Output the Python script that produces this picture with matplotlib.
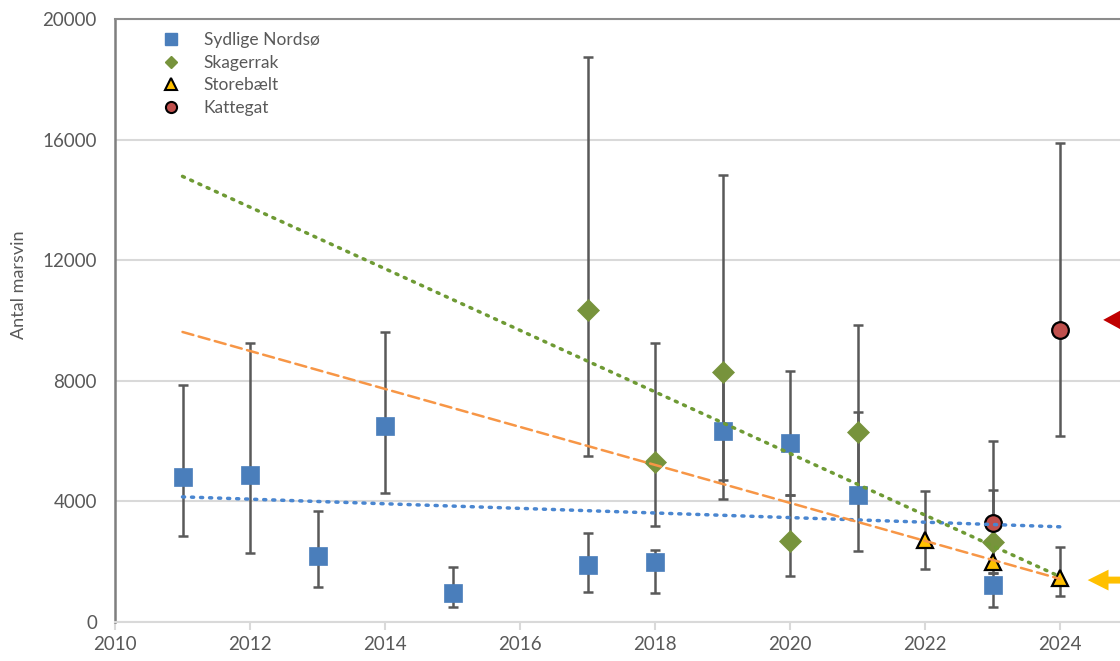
import numpy as np
import matplotlib
matplotlib.use('Agg')
import matplotlib.pyplot as plt
from matplotlib.lines import Line2D

plt.rcParams['font.family'] = ['Lato', 'DejaVu Sans']

# Sydlige Nordsø
sn_aar = [2011, 2012, 2013, 2014, 2015, 2017, 2018, 2019, 2020, 2021, 2023]
sn_antal = [4800, 4880, 2190, 6500, 960, 1890, 1990, 6330, 5940, 4210, 1230]
sn_lav = [2850, 2290, 1160, 4280, 500, 1000, 960, 4070, 4210, 2360, 500]
sn_hoj = [7860, 9250, 3680, 9620, 1820, 2950, 2390, 8300, 8320, 6960, 1620]

# Skagerrak
sk_aar = [2017, 2018, 2019, 2020, 2021, 2023]
sk_antal = [10350, 5300, 8290, 2690, 6300, 2650]
sk_lav = [5510, 3200, 4710, 1540, 4200, 2000]
sk_hoj = [18740, 9250, 14830, 4210, 9850, 4380]

# Storebælt
sb_aar = [2022, 2023, 2024]
sb_antal = [2720, 2000, 1460]
sb_lav = [1760, 1620, 860]
sb_hoj = [4350, 3280, 2490]

# Kattegat
kg_aar = [2023, 2024]
kg_antal = [3280, 9690]
kg_lav = [2000, 6170]
kg_hoj = [5990, 15890]

gray = '#595959'

fig = plt.figure(figsize=(11.2, 6.61), dpi=100)
ax = fig.add_axes([115 / 1120, 39 / 661, 1080 / 1120, 603 / 661])


def serie(aar, antal, lav, hoj, marker, farve, kant, ms, mew):
    aar = np.array(aar)
    antal = np.array(antal)
    fejl = [antal - np.array(lav), np.array(hoj) - antal]
    ax.errorbar(aar, antal, yerr=fejl, fmt='none', ecolor=gray,
                elinewidth=1.8, capsize=3.6, capthick=1.8, zorder=2)
    ax.plot(aar, antal, linestyle='none', marker=marker, color=farve,
            markeredgecolor=kant, markersize=ms, markeredgewidth=mew, zorder=3)


def trend(aar, antal, farve, stil, lw):
    k = np.polyfit(aar, antal, 1)
    xs = np.array([2011, 2024])
    ax.plot(xs, np.polyval(k, xs), color=farve, linestyle=stil, lw=lw,
            dash_capstyle='round', zorder=4)


serie(sn_aar, sn_antal, sn_lav, sn_hoj, 's', '#4a7ebb', '#4a7ebb', 13, 0.5)
serie(sk_aar, sk_antal, sk_lav, sk_hoj, 'D', '#77933c', '#77933c', 11, 0.5)
serie(sb_aar, sb_antal, sb_lav, sb_hoj, '^', '#ffc000', 'black', 12, 1.6)
serie(kg_aar, kg_antal, kg_lav, kg_hoj, 'o', '#c0504d', 'black', 12, 1.6)

trend(sn_aar, sn_antal, '#4a86d0', (0, (0.6, 2.0)), 2.5)
trend(sk_aar, sk_antal, '#6e9a34', (0, (0.6, 2.0)), 2.5)
trend(sb_aar, sb_antal, '#f79646', (0, (4.5, 2.2)), 1.8)

# pile i højre side
ax.annotate('', xy=(2024.64, 10020), xytext=(2025.6, 10020),
            arrowprops=dict(arrowstyle='simple,head_length=22,head_width=24,tail_width=9',
                            color='#c00000', lw=0, mutation_scale=1,
                            shrinkA=0, shrinkB=0),
            annotation_clip=False)
ax.annotate('', xy=(2024.41, 1390), xytext=(2025.3, 1390),
            arrowprops=dict(arrowstyle='simple,head_length=15,head_width=15,tail_width=5',
                            color='#ffc000', lw=0, mutation_scale=1,
                            shrinkA=0, shrinkB=0),
            annotation_clip=False)

ax.set_xlim(2010, 2026)
ax.set_ylim(0, 20000)
ax.set_xticks(np.arange(2010, 2025, 2))
ax.set_yticks(np.arange(0, 20001, 4000))
ax.grid(axis='y', color='#d9d9d9', lw=1.5, zorder=0)
ax.set_axisbelow(True)

ax.spines['right'].set_visible(False)
ax.spines['left'].set_color('#7f7f7f')
ax.spines['left'].set_linewidth(1.8)
ax.spines['top'].set_color('#8c8c8c')
ax.spines['top'].set_linewidth(1.5)
ax.spines['bottom'].set_color('#d9d9d9')
ax.spines['bottom'].set_linewidth(1.5)

ax.tick_params(axis='y', length=0, labelsize=13.5, labelcolor=gray, pad=13)
ax.tick_params(axis='x', length=6, width=1.5, color='#d9d9d9',
               labelsize=13.5, labelcolor=gray, pad=4)

ax.set_ylabel('Antal marsvin', fontsize=13, color=gray)
ax.yaxis.set_label_coords(-0.0815, 0.559)

handles = [
    Line2D([], [], linestyle='none', marker='s', color='#4a7ebb', markersize=9),
    Line2D([], [], linestyle='none', marker='D', color='#77933c', markersize=6),
    Line2D([], [], linestyle='none', marker='^', color='#ffc000',
           markeredgecolor='black', markeredgewidth=1.5, markersize=8),
    Line2D([], [], linestyle='none', marker='o', color='#c0504d',
           markeredgecolor='black', markeredgewidth=1.5, markersize=8),
]
labels = ['Sydlige Nordsø', 'Skagerrak', 'Storebælt', 'Kattegat']
leg = ax.legend(handles, labels, loc='upper left', frameon=False,
                bbox_to_anchor=(0.0435, 0.978), borderaxespad=0, borderpad=0,
                handlelength=1.0, handletextpad=1.4, labelspacing=0.38,
                fontsize=12.5)
for t in leg.get_texts():
    t.set_color(gray)

fig.savefig('out.png', dpi=100)
